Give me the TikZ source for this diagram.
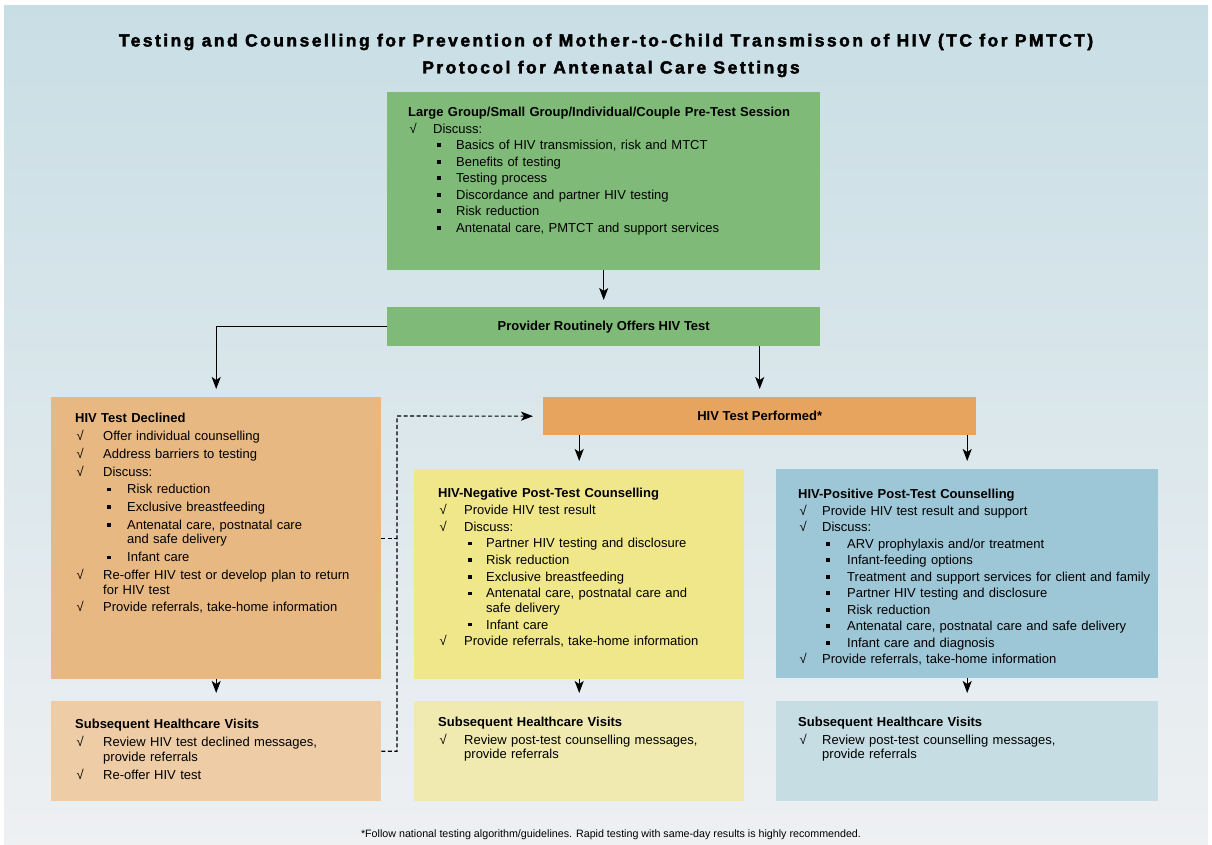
\documentclass[tikz,border=0pt]{standalone}
\usepackage{fontspec}
\setmainfont{Liberation Sans}
\newfontfamily\titlefont[LetterSpace=14,FakeBold=2.2]{Liberation Sans Bold}
\usetikzlibrary{arrows.meta,calc}

\definecolor{bgtop}{RGB}{200,222,229}
\definecolor{bgbot}{RGB}{238,240,242}
\definecolor{cgreen}{RGB}{128,186,120}
\definecolor{cdecl}{RGB}{232,184,131}
\definecolor{cdeclL}{RGB}{237,204,166}
\definecolor{cperf}{RGB}{230,164,94}
\definecolor{cneg}{RGB}{240,230,138}
\definecolor{cnegL}{RGB}{240,234,176}
\definecolor{cpos}{RGB}{157,198,214}
\definecolor{cposL}{RGB}{197,221,227}

\newdimen\ckw \newdimen\bui \newdimen\buw
\newcommand\hd[1]{\noindent\textbf{#1}\par}
\newcommand\ck[1]{\noindent\hangindent=\ckw\hangafter=1\makebox[\ckw][l]{\hspace{1.5pt}√}#1\par}
\newcommand\bu[1]{\noindent\hangindent=\buw\hangafter=1\hspace*{\bui}\makebox[\dimexpr\buw-\bui\relax][l]{\rule[2.6pt]{3.6pt}{3.6pt}}#1\par}

\tikzset{
  box/.style={anchor=north west, inner sep=0pt, draw=none},
  txt/.style={anchor=north west, inner sep=0pt, align=left, text width=400pt,
    font=\fontsize{13}{14.5}\selectfont,
    execute at begin node={\setlength\parskip{2pt}\ckw=25pt\bui=29pt\buw=48pt}},
  tip/.tip={Stealth[length=12pt,width=9pt,inset=3pt]},
  arr/.style={-tip, line width=1.4pt, black},
  dsh/.style={line width=1.1pt, dash pattern=on 4pt off 2.5pt, black},
  btitle/.style={font=\fontsize{13}{15}\selectfont\bfseries}
}

\begin{document}
\begin{tikzpicture}[x=1pt,y=-1pt]
\useasboundingbox (0,0) rectangle (1212,845);
\shade[top color=bgtop, bottom color=bgbot] (4,6) rectangle (1208,845);

\node[font=\titlefont\fontsize{17.5}{20}\selectfont] (t1) at (606,42) {Testing and Counselling for Prevention of Mother-to-Child Transmisson of HIV (TC for PMTCT)};
\node[font=\titlefont\fontsize{17.5}{20}\selectfont] (t2) at (611,69) {Protocol for Antenatal Care Settings};

% boxes
\node[box, fill=cgreen, minimum width=433pt, minimum height=178pt] (pre) at (387,92) {};
\node[box, fill=cgreen, minimum width=433pt, minimum height=39pt, btitle] (prov) at (387,307) {Provider Routinely Offers HIV Test};
\node[box, fill=cdecl, minimum width=330pt, minimum height=282pt] (decl) at (51,397) {};
\node[box, fill=cdeclL, minimum width=330pt, minimum height=100pt] (subsL) at (51,701) {};
\node[box, fill=cperf, minimum width=433pt, minimum height=38pt, btitle] (perf) at (543,397) {HIV Test Performed*};
\node[box, fill=cneg, minimum width=330pt, minimum height=210pt] (neg) at (414,469) {};
\node[box, fill=cpos, minimum width=382pt, minimum height=209pt] (pos) at (776,469) {};
\node[box, fill=cnegL, minimum width=330pt, minimum height=100pt] (subsM) at (414,701) {};
\node[box, fill=cposL, minimum width=382pt, minimum height=100pt] (subsR) at (776,701) {};

% texts
\node[txt] (preT) at (408,107) {\hd{Large Group/Small Group/Individual/Couple Pre-Test Session}
\ck{Discuss:}
\bu{Basics of HIV transmission, risk and MTCT}
\bu{Benefits of testing}
\bu{Testing process}
\bu{Discordance and partner HIV testing}
\bu{Risk reduction}
\bu{Antenatal care, PMTCT and support services}};

\node[txt, execute at begin node={\setlength\parskip{3.3pt}\ckw=28pt\bui=32pt\buw=52pt}] (declT) at (75,413) {\hd{HIV Test Declined}
\ck{Offer individual counselling}
\ck{Address barriers to testing}
\ck{Discuss:}
\bu{Risk reduction}
\bu{Exclusive breastfeeding}
\bu{Antenatal care, postnatal care\newline and safe delivery}
\bu{Infant care}
\ck{Re-offer HIV test or develop plan to return\newline for HIV test}
\ck{Provide referrals, take-home information}};

\node[txt, execute at begin node={\setlength\parskip{3.5pt}\ckw=28pt}] (subsLT) at (75,719) {\hd{Subsequent Healthcare Visits}
\ck{Review HIV test declined messages,\newline provide referrals}
\ck{Re-offer HIV test}};

\node[txt, execute at begin node={\setlength\parskip{2.2pt}\ckw=26pt\bui=30pt\buw=48pt}] (negT) at (438,488) {\hd{HIV-Negative Post-Test Counselling}
\ck{Provide HIV test result}
\ck{Discuss:}
\bu{Partner HIV testing and disclosure}
\bu{Risk reduction}
\bu{Exclusive breastfeeding}
\bu{Antenatal care, postnatal care and\newline safe delivery}
\bu{Infant care}
\ck{Provide referrals, take-home information}};

\node[txt, execute at begin node={\setlength\parskip{2pt}\ckw=24pt\bui=28pt\buw=49pt}] (posT) at (798,489) {\hd{HIV-Positive Post-Test Counselling}
\ck{Provide HIV test result and support}
\ck{Discuss:}
\bu{ARV prophylaxis and/or treatment}
\bu{Infant-feeding options}
\bu{Treatment and support services for client and family}
\bu{Partner HIV testing and disclosure}
\bu{Risk reduction}
\bu{Antenatal care, postnatal care and safe delivery}
\bu{Infant care and diagnosis}
\ck{Provide referrals, take-home information}};

\node[txt, execute at begin node={\setlength\parskip{3pt}\ckw=26pt}] (subsMT) at (438,717) {\hd{Subsequent Healthcare Visits}
\ck{Review post-test counselling messages,\newline provide referrals}};

\node[txt, execute at begin node={\setlength\parskip{3pt}\ckw=24pt}] (subsRT) at (798,717) {\hd{Subsequent Healthcare Visits}
\ck{Review post-test counselling messages,\newline provide referrals}};

\node[font=\fontsize{10.7}{12}\selectfont] (fn) at (611,835) {*Follow national testing algorithm/guidelines. Rapid testing with same-day results is highly recommended.};

% connectors
\draw[arr, shorten >=7pt] (pre.south) -- (prov.north);
\draw[arr, shorten >=8pt] (prov.west) -| (decl.north);
\draw[arr, shorten >=8pt] (perf.north |- prov.south) -- (perf.north);
\draw[arr, shorten >=8pt] (neg.north |- perf.south) -- (neg.north);
\draw[arr, shorten >=8pt] (pos.north |- perf.south) -- (pos.north);
\draw[arr, shorten >=8pt] (decl.south) -- (subsL.north);
\draw[arr, shorten >=8pt] (neg.south) -- (subsM.north);
\draw[arr, shorten >=8pt] (pos.south) -- (subsR.north);

\coordinate (dj) at (397,416);
\draw[dsh] (decl.east) -- (decl.east -| dj);
\draw[dsh, -tip, shorten >=10pt] (subsL.east) -| (dj) -- (perf.west);
\end{tikzpicture}
\end{document}
